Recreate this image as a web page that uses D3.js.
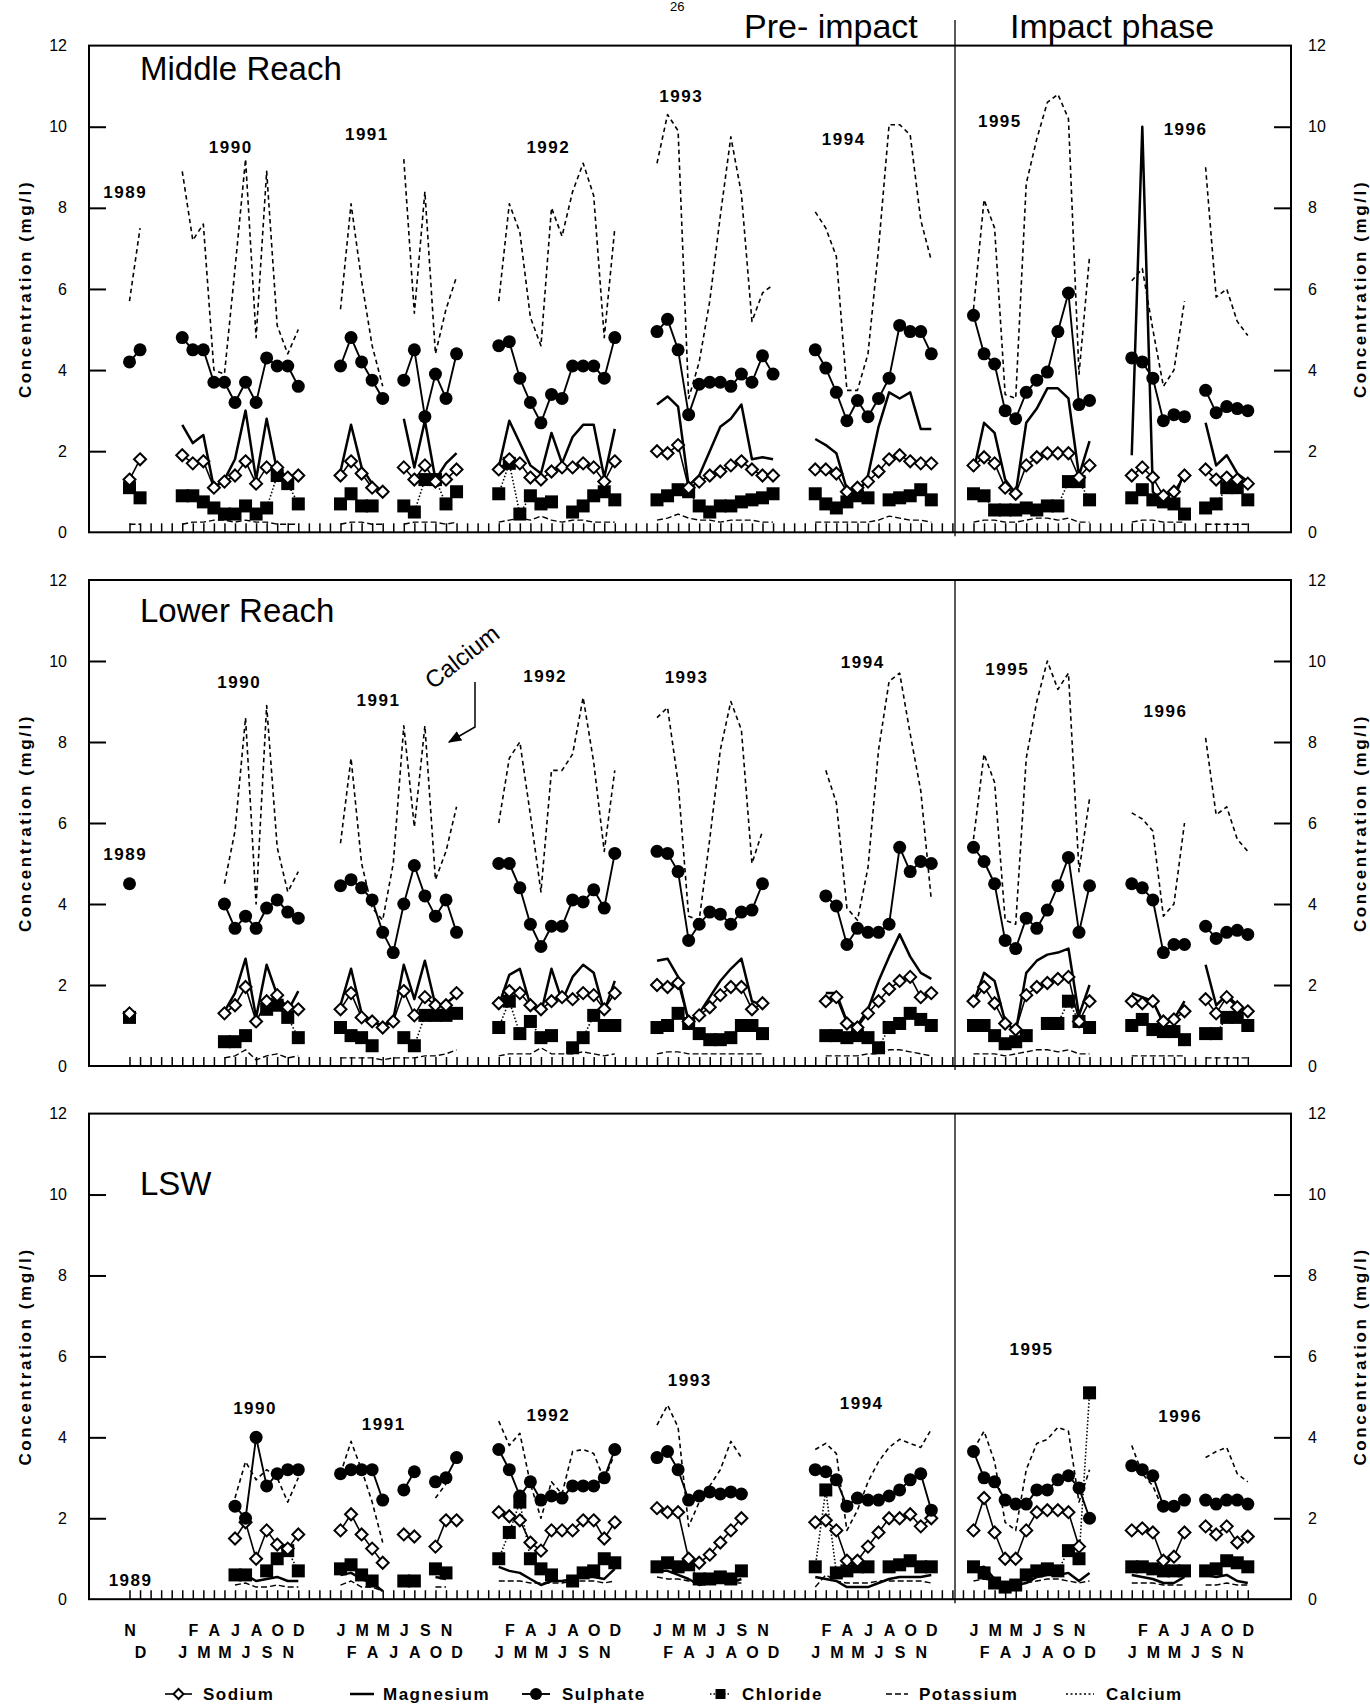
<!DOCTYPE html>
<meta charset="utf-8">
<head>
<title>Ion concentrations - Middle Reach, Lower Reach, LSW</title>
<script src="https://cdnjs.cloudflare.com/ajax/libs/d3/7.8.5/d3.min.js"></script>
<style>
body {margin: 0; background: #fff;}
text {font-family: "Liberation Sans", Arial, Helvetica, sans-serif; fill: #000;}
.frame {fill: none; stroke: #000; stroke-width: 2;}
.axis path {display: none;}
.axis line {stroke: #000;}
</style>
</head>
<body>
<script>
var _ = null;

// tick labels
var monthNames = ["J","F","M","A","M","J","J","A","S","O","N","D"];
var yearNames  = ["1989","1990","1991","1992","1993","1994","1995","1996"];
var panelNames = ["Middle Reach", "Lower Reach", "LSW"];
var seriesNames = ["Sodium", "Magnesium", "Sulphate", "Chloride", "Potassium", "Calcium"];

// values in mg/l, Nov 1989 .. Dec 1996 (2 + 7 x 12 months)
// ---- Middle Reach
var midSodium = [
  1.3, 1.8,
  1.9, 1.7, 1.75, 1.1, 1.25, 1.4, 1.75, 1.2, 1.6, 1.6, 1.35, 1.4,
  1.4, 1.75, 1.45, 1.1, 1.0, _, 1.6, 1.3, 1.65, 1.25, 1.3, 1.55,
  1.55, 1.8, 1.7, 1.35, 1.3, 1.5, 1.6, 1.6, 1.7, 1.6, 1.25, 1.75,
  2.0, 1.95, 2.15, 1.1, 1.25, 1.4, 1.5, 1.65, 1.75, 1.55, 1.4, 1.4,
  1.55, 1.55, 1.45, 1.0, 1.1, 1.25, 1.5, 1.8, 1.9, 1.75, 1.7, 1.7,
  1.65, 1.85, 1.7, 1.1, 0.95, 1.65, 1.85, 1.95, 1.95, 1.95, 1.35, 1.65,
  1.4, 1.6, 1.35, 0.9, 1.0, 1.4, _, 1.55, 1.3, 1.35, 1.3, 1.2
];
var midMagnesium = [
  _, _,
  2.65, 2.2, 2.4, 1.1, 1.3, 1.8, 3.0, 1.3, 2.8, 1.5, 1.3, _,
  1.5, 2.65, 1.6, 1.2, 1.0, _, 2.8, 1.6, 2.75, 1.3, 1.7, 1.95,
  1.6, 2.75, 2.2, 1.65, 1.45, 2.45, 1.7, 2.35, 2.65, 2.65, 1.35, 2.55,
  3.15, 3.35, 3.1, 1.15, 1.4, 2.0, 2.6, 2.8, 3.15, 1.8, 1.85, 1.8,
  2.3, 2.15, 1.95, 1.05, 0.9, 1.4, 2.6, 3.45, 3.3, 3.45, 2.55, 2.55,
  1.5, 2.7, 2.45, 1.3, 0.95, 2.7, 3.05, 3.55, 3.55, 3.3, 1.4, 2.25,
  1.9, 10.0, 1.0, 0.7, 0.8, 1.5, _, 2.7, 1.65, 1.9, 1.45, 1.25
];
var midSulphate = [
  4.2, 4.5,
  4.8, 4.5, 4.5, 3.7, 3.7, 3.2, 3.7, 3.2, 4.3, 4.1, 4.1, 3.6,
  4.1, 4.8, 4.2, 3.75, 3.3, _, 3.75, 4.5, 2.85, 3.9, 3.3, 4.4,
  4.6, 4.7, 3.8, 3.2, 2.7, 3.4, 3.3, 4.1, 4.1, 4.1, 3.8, 4.8,
  4.95, 5.25, 4.5, 2.9, 3.65, 3.7, 3.7, 3.6, 3.9, 3.7, 4.35, 3.9,
  4.5, 4.05, 3.45, 2.75, 3.25, 2.85, 3.3, 3.8, 5.1, 4.95, 4.95, 4.4,
  5.35, 4.4, 4.15, 3.0, 2.8, 3.45, 3.75, 3.95, 4.95, 5.9, 3.15, 3.25,
  4.3, 4.2, 3.8, 2.75, 2.9, 2.85, _, 3.5, 2.95, 3.1, 3.05, 3.0
];
var midChloride = [
  1.1, 0.85,
  0.9, 0.9, 0.75, 0.6, 0.45, 0.45, 0.65, 0.45, 0.6, 1.4, 1.2, 0.7,
  0.7, 0.95, 0.65, 0.65, _, _, 0.65, 0.5, 1.3, 1.3, 0.7, 1.0,
  0.95, 1.7, 0.45, 0.9, 0.7, 0.75, _, 0.5, 0.65, 0.9, 1.0, 0.8,
  0.8, 0.9, 1.05, 1.0, 0.65, 0.5, 0.65, 0.65, 0.75, 0.8, 0.85, 0.95,
  0.95, 0.7, 0.6, 0.75, 0.9, 0.85, _, 0.8, 0.85, 0.9, 1.05, 0.8,
  0.95, 0.9, 0.55, 0.55, 0.55, 0.6, 0.55, 0.65, 0.65, 1.25, 1.25, 0.8,
  0.85, 1.05, 0.8, 0.75, 0.7, 0.45, _, 0.6, 0.7, 1.1, 1.1, 0.8
];
var midPotassium = [
  0.2, 0.2,
  0.2, 0.25, 0.25, 0.3, 0.3, 0.25, 0.3, 0.25, 0.25, 0.2, 0.2, 0.2,
  0.2, 0.25, 0.25, 0.2, 0.2, _, 0.2, 0.25, 0.25, 0.25, 0.2, 0.25,
  0.25, 0.3, 0.35, 0.3, 0.4, 0.3, 0.25, 0.3, 0.3, 0.25, 0.25, 0.25,
  0.3, 0.35, 0.45, 0.35, 0.3, 0.3, 0.25, 0.3, 0.3, 0.3, 0.25, 0.25,
  0.25, 0.25, 0.25, 0.25, 0.25, 0.25, 0.3, 0.4, 0.35, 0.3, 0.3, 0.25,
  0.25, 0.3, 0.3, 0.25, 0.25, 0.3, 0.35, 0.35, 0.3, 0.35, 0.25, 0.25,
  0.25, 0.3, 0.3, 0.25, 0.25, 0.25, _, 0.2, 0.2, 0.2, 0.2, 0.2
];
var midCalcium = [
  5.7, 7.5,
  8.9, 7.2, 7.6, 4.0, 3.9, 6.5, 9.2, 4.8, 8.9, 5.1, 4.4, 5.0,
  5.5, 8.1, 6.2, 4.6, 3.6, _, 9.2, 5.4, 8.4, 4.4, 5.5, 6.3,
  5.7, 8.1, 7.4, 5.3, 4.6, 8.0, 7.3, 8.4, 9.1, 8.3, 4.8, 7.5,
  9.1, 10.3, 9.9, 3.3, 4.2, 5.7, 7.8, 9.75, 8.35, 5.2, 5.9, 6.1,
  7.9, 7.5, 6.8, 3.5, 3.5, 4.4, 7.0, 10.05, 10.05, 9.8, 7.7, 6.7,
  5.5, 8.2, 7.5, 3.4, 3.3, 8.6, 9.7, 10.6, 10.8, 10.2, 3.9, 6.8,
  6.2, 6.5, 5.0, 3.6, 4.0, 5.7, _, 9.0, 5.8, 6.0, 5.2, 4.85
];

// ---- Lower Reach
var lowSodium = [
  1.3, _,
  _, _, _, _, 1.3, 1.5, 1.95, 1.1, 1.6, 1.75, 1.45, 1.4,
  1.4, 1.8, 1.2, 1.1, 0.95, 1.1, 1.85, 1.25, 1.7, 1.5, 1.5, 1.8,
  1.55, 1.85, 1.8, 1.5, 1.4, 1.6, 1.7, 1.65, 1.8, 1.75, 1.4, 1.8,
  2.0, 1.95, 2.05, 1.1, 1.25, 1.45, 1.75, 1.95, 1.95, 1.4, 1.55, _,
  _, 1.6, 1.7, 1.05, 0.95, 1.3, 1.6, 1.9, 2.1, 2.2, 1.7, 1.8,
  1.6, 1.95, 1.55, 1.05, 0.9, 1.75, 1.95, 2.05, 2.15, 2.2, 1.1, 1.6,
  1.6, 1.55, 1.6, 1.1, 1.15, 1.35, _, 1.65, 1.3, 1.7, 1.45, 1.35
];
var lowMagnesium = [
  _, _,
  _, _, _, _, 1.35, 1.8, 2.65, 1.2, 2.5, 1.75, 1.35, 1.85,
  1.5, 2.4, 1.3, 1.1, 1.0, 1.15, 2.5, 1.65, 2.6, 1.5, 1.55, 1.75,
  1.5, 2.25, 2.4, 1.5, 1.3, 2.4, 1.6, 2.2, 2.5, 2.3, 1.35, 2.1,
  2.6, 2.65, 2.2, 1.1, 1.3, 1.7, 2.1, 2.4, 2.65, 1.6, 1.5, _,
  _, 1.8, 1.8, 1.1, 1.0, 1.4, 2.1, 2.7, 3.25, 2.7, 2.3, 2.15,
  1.55, 2.3, 2.1, 1.1, 0.85, 2.3, 2.6, 2.75, 2.8, 2.9, 1.25, 2.0,
  1.8, 1.7, 1.6, 1.05, 1.15, 1.6, _, 2.5, 1.5, 1.75, 1.5, 1.35
];
var lowSulphate = [
  4.5, _,
  _, _, _, _, 4.0, 3.4, 3.7, 3.4, 3.9, 4.1, 3.8, 3.65,
  4.45, 4.6, 4.4, 4.1, 3.3, 2.8, 4.0, 4.95, 4.2, 3.7, 4.1, 3.3,
  5.0, 5.0, 4.4, 3.5, 2.95, 3.45, 3.45, 4.1, 4.05, 4.35, 3.9, 5.25,
  5.3, 5.25, 4.8, 3.1, 3.5, 3.8, 3.75, 3.5, 3.8, 3.85, 4.5, _,
  _, 4.2, 3.95, 3.0, 3.4, 3.3, 3.3, 3.5, 5.4, 4.8, 5.05, 5.0,
  5.4, 5.05, 4.5, 3.1, 2.9, 3.65, 3.4, 3.85, 4.45, 5.15, 3.3, 4.45,
  4.5, 4.4, 4.1, 2.8, 3.0, 3.0, _, 3.45, 3.15, 3.3, 3.35, 3.25
];
var lowChloride = [
  1.2, _,
  _, _, _, _, 0.6, 0.6, 0.75, _, 1.4, 1.5, 1.2, 0.7,
  0.95, 0.75, 0.7, 0.5, _, _, 0.7, 0.5, 1.25, 1.25, 1.25, 1.3,
  0.95, 1.6, 0.8, 1.1, 0.7, 0.75, _, 0.45, 0.7, 1.25, 1.0, 1.0,
  0.95, 1.0, 1.3, 1.05, 0.8, 0.65, 0.65, 0.7, 1.0, 1.0, 0.8, _,
  _, 0.75, 0.75, 0.7, 0.75, 0.7, 0.45, 0.95, 1.05, 1.3, 1.15, 1.0,
  1.0, 1.0, 0.75, 0.55, 0.6, 0.75, _, 1.05, 1.05, 1.6, 1.1, 0.95,
  1.0, 1.15, 0.9, 0.85, 0.85, 0.65, _, 0.8, 0.8, 1.2, 1.2, 1.0
];
var lowPotassium = [
  _, _,
  _, _, _, _, 0.2, 0.25, 0.4, 0.15, 0.25, 0.3, 0.2, 0.25,
  0.2, 0.2, 0.2, 0.2, 0.15, 0.2, 0.2, 0.2, 0.25, 0.25, 0.3, 0.4,
  0.25, 0.3, 0.3, 0.3, 0.45, 0.3, 0.3, 0.3, 0.35, 0.3, 0.25, 0.3,
  0.3, 0.35, 0.35, 0.3, 0.3, 0.3, 0.3, 0.3, 0.3, 0.3, 0.3, _,
  _, 0.25, 0.25, 0.25, 0.25, 0.3, 0.3, 0.4, 0.4, 0.35, 0.3, 0.25,
  0.3, 0.3, 0.3, 0.25, 0.3, 0.35, 0.4, 0.4, 0.35, 0.4, 0.3, 0.3,
  0.25, 0.25, 0.25, 0.25, 0.25, 0.25, _, 0.2, 0.2, 0.2, 0.2, 0.2
];
var lowCalcium = [
  _, _,
  _, _, _, _, 4.5, 5.8, 8.6, 4.0, 8.9, 5.4, 4.3, 4.8,
  5.5, 7.6, 5.0, 3.9, 3.6, 5.0, 8.4, 5.9, 8.4, 4.6, 5.3, 6.4,
  6.0, 7.6, 8.0, 6.2, 4.3, 7.3, 7.3, 7.7, 9.1, 7.5, 5.3, 7.3,
  8.6, 8.85, 7.0, 3.7, 3.6, 5.6, 7.8, 9.0, 8.3, 5.0, 5.8, _,
  _, 7.3, 6.5, 3.9, 3.6, 4.9, 7.8, 9.5, 9.7, 8.2, 6.8, 4.1,
  5.6, 7.7, 7.0, 3.6, 3.5, 7.6, 9.0, 10.0, 9.3, 9.7, 4.8, 6.6,
  6.25, 6.1, 5.8, 3.7, 4.0, 6.0, _, 8.1, 6.2, 6.4, 5.6, 5.3
];

// ---- LSW
var lswSodium = [
  _, _,
  _, _, _, _, _, 1.5, 1.9, 1.0, 1.7, 1.35, 1.25, 1.6,
  1.7, 2.1, 1.6, 1.25, 0.9, _, 1.6, 1.55, _, 1.3, 1.95, 1.95,
  2.15, 2.05, 1.95, 1.4, 1.2, 1.7, 1.7, 1.7, 1.95, 1.95, 1.5, 1.9,
  2.25, 2.15, 2.15, 1.0, 0.9, 1.1, 1.4, 1.7, 2.0, _, _, _,
  1.9, 1.95, 1.7, 0.95, 0.95, 1.3, 1.65, 2.0, 2.0, 2.1, 1.8, 2.0,
  1.7, 2.5, 1.65, 1.0, 1.0, 1.7, 2.15, 2.2, 2.2, 2.15, 1.3, _,
  1.7, 1.75, 1.65, 0.95, 1.05, 1.65, _, 1.8, 1.6, 1.8, 1.4, 1.55
];
var lswMagnesium = [
  _, _,
  _, _, _, _, _, 0.5, 0.6, 0.45, 0.5, 0.55, 0.45, 0.45,
  0.6, 0.65, 0.5, 0.4, 0.2, _, 0.45, 0.45, _, 0.55, 0.5, _,
  0.8, 0.7, 0.65, 0.5, 0.35, 0.45, 0.45, 0.5, 0.55, 0.55, 0.5, 0.75,
  0.7, 0.7, 0.6, 0.5, 0.35, 0.4, 0.4, 0.4, 0.5, _, _, _,
  0.55, 0.5, 0.45, 0.3, 0.3, 0.3, 0.4, 0.5, 0.55, 0.55, 0.55, 0.6,
  0.75, 0.8, 0.5, 0.35, 0.35, 0.4, 0.55, 0.6, 0.6, 0.65, 0.45, 0.65,
  0.6, 0.55, 0.5, 0.4, 0.4, 0.55, _, 0.6, 0.55, 0.6, 0.45, 0.4
];
var lswSulphate = [
  _, _,
  _, _, _, _, _, 2.3, 2.0, 4.0, 2.8, 3.1, 3.2, 3.2,
  3.1, 3.2, 3.2, 3.2, 2.45, _, 2.7, 3.15, _, 2.9, 3.0, 3.5,
  3.7, 3.2, 2.55, 2.9, 2.45, 2.55, 2.5, 2.8, 2.8, 2.8, 3.0, 3.7,
  3.5, 3.65, 3.2, 2.45, 2.55, 2.65, 2.6, 2.65, 2.6, _, _, _,
  3.2, 3.15, 2.95, 2.3, 2.5, 2.45, 2.45, 2.55, 2.7, 2.95, 3.1, 2.2,
  3.65, 3.0, 2.9, 2.45, 2.35, 2.35, 2.7, 2.7, 2.95, 3.05, 2.75, 2.0,
  3.3, 3.2, 3.05, 2.3, 2.3, 2.45, _, 2.45, 2.35, 2.45, 2.45, 2.35
];
var lswChloride = [
  _, _,
  _, _, _, _, _, 0.6, 0.6, _, 0.7, 1.0, 1.2, 0.7,
  0.75, 0.85, 0.6, 0.45, _, _, 0.45, 0.45, _, 0.75, 0.65, _,
  1.0, 1.65, 2.4, 1.0, 0.75, 0.6, _, 0.45, 0.65, 0.7, 1.0, 0.9,
  0.8, 0.9, 0.8, 0.85, 0.5, 0.5, 0.55, 0.5, 0.7, _, _, _,
  0.8, 2.7, 0.65, 0.7, 0.8, 0.8, _, 0.8, 0.85, 0.95, 0.8, 0.8,
  0.8, 0.65, 0.4, 0.3, 0.35, 0.6, 0.7, 0.75, 0.7, 1.2, 1.0, 5.1,
  0.8, 0.8, 0.75, 0.7, 0.7, 0.7, _, 0.7, 0.75, 0.95, 0.9, 0.8
];
var lswPotassium = [
  _, _,
  _, _, _, _, _, 0.35, 0.4, 0.3, 0.3, 0.35, 0.3, 0.3,
  0.35, 0.45, 0.3, 0.3, 0.2, _, 0.4, 0.4, _, 0.3, 0.3, _,
  0.45, 0.45, 0.45, 0.4, 0.4, 0.4, 0.4, 0.45, 0.45, 0.45, 0.4, 0.45,
  0.55, 0.5, 0.5, 0.45, 0.4, 0.4, 0.4, 0.4, 0.4, _, _, _,
  0.3, 0.6, 0.45, 0.4, 0.4, 0.4, 0.45, 0.45, 0.45, 0.45, 0.45, 0.4,
  0.45, 0.5, 0.45, 0.35, 0.35, 0.4, 0.45, 0.5, 0.5, 0.45, 0.4, 0.45,
  0.4, 0.4, 0.4, 0.35, 0.35, 0.35, _, 0.35, 0.35, 0.4, 0.35, 0.35
];
var lswCalcium = [
  _, _,
  _, _, _, _, _, 2.5, 3.4, 2.95, 3.2, 3.0, 2.4, 3.0,
  3.1, 3.9, 3.2, 2.4, 1.4, _, _, _, _, 2.5, 2.85, _,
  4.4, 3.8, 4.1, 2.85, 2.0, 2.9, 2.6, 3.65, 3.7, 3.6, 2.95, 3.6,
  4.3, 4.8, 4.25, 1.8, 2.4, 2.8, 3.2, 3.9, 3.5, _, _, _,
  3.7, 3.85, 3.6, 1.7, 2.2, 2.9, 3.4, 3.75, 3.95, 3.85, 3.75, 4.2,
  3.7, 4.15, 3.4, 1.9, 1.7, 3.2, 3.85, 3.95, 4.25, 4.15, 2.4, 3.2,
  3.8, 3.1, 2.8, 2.2, 2.2, 2.6, _, 3.5, 3.65, 3.75, 3.1, 2.9
];

// year label anchors: [month slot, concentration]
var midYearAt = [[-0.4, 8.24], [9.6, 9.35], [22.5, 9.67], [39.7, 9.35], [52.3, 10.61], [67.7, 9.55], [82.5, 9.99], [100.1, 9.8]];
var lowYearAt = [[-0.4, 5.09], [10.4, 9.33], [23.6, 8.89], [39.4, 9.48], [52.8, 9.46], [69.5, 9.83], [83.2, 9.65], [98.2, 8.62]];
var lswYearAt = [[0.1, 0.33], [11.9, 4.58], [24.1, 4.18], [39.7, 4.4], [53.1, 5.27], [69.4, 4.7], [85.5, 6.03], [99.6, 4.39]];

// ---------------------------------------------------------------
var width = 1370, height = 1704;
var left = 89, right = 1291, divideX = 955;

var svg = d3.select("body").append("svg")
  .attr("width", width)
  .attr("height", height);

// month slots: Nov-Dec 1989, then each year 12 months with 3 empty slots between years
function slotOf(i) {
  if (i < 2) return i;
  return 5 + Math.floor((i - 2) / 12) * 15 + (i - 2) % 12;
}
var nMonths = 2 + 7 * 12;
var monthSlots = d3.range(nMonths).map(slotOf);
var monthLetter = {};
monthSlots.forEach(function(s, i) {
  monthLetter[s] = i < 2 ? ["N", "D"][i] : monthNames[(i - 2) % 12];
});

var x = d3.scaleLinear().domain([0, 106]).range([129.5, 1247.8]);

function toPoints(vals) {
  var pts = [];
  vals.forEach(function(v, i) {
    if (i >= 2 && (i - 2) % 12 === 0) pts.push({s: null, v: null});
    pts.push({s: slotOf(i), v: v});
  });
  return pts;
}

var panels = [
  {name: panelNames[0], top: 45.6, bottom: 532.3, titleY: 80, yearAt: midYearAt,
   data: [midSodium, midMagnesium, midSulphate, midChloride, midPotassium, midCalcium]},
  {name: panelNames[1], top: 580, bottom: 1066, titleY: 622, yearAt: lowYearAt,
   data: [lowSodium, lowMagnesium, lowSulphate, lowChloride, lowPotassium, lowCalcium]},
  {name: panelNames[2], top: 1113.6, bottom: 1599.2, titleY: 1195, yearAt: lswYearAt,
   data: [lswSodium, lswMagnesium, lswSulphate, lswChloride, lswPotassium, lswCalcium]}
];

// line styles by series: sodium, magnesium, sulphate, chloride, potassium, calcium
var lineStyle = [
  {w: 1.6, dash: null},
  {w: 2.5, dash: null},
  {w: 1.9, dash: null},
  {w: 1.6, dash: "1.5,2"},
  {w: 1.4, dash: "6,3"},
  {w: 1.6, dash: "4.5,3.5"}
];
var drawOrder = [5, 4, 1, 3, 0, 2];

function diamond(r) { return "M0," + (-r) + "L" + r + ",0L0," + r + "L" + (-r) + ",0Z"; }

panels.forEach(function(p, pi) {
  var y = d3.scaleLinear().domain([0, 12]).range([p.bottom, p.top]);
  var g = svg.append("g");

  // month ticks along the bottom, pointing up
  g.append("g").attr("class", "axis")
    .attr("transform", "translate(0," + p.bottom + ")")
    .call(d3.axisTop(x).tickValues(d3.range(107)).tickSize(9).tickFormat(""))
    .selectAll("line").attr("stroke-width", 1.5);

  // inner y ticks, both sides
  g.append("g").attr("class", "axis")
    .attr("transform", "translate(" + left + ",0)")
    .call(d3.axisRight(y).tickValues([2, 4, 6, 8, 10]).tickSize(17).tickFormat(""))
    .selectAll("line").attr("stroke-width", 2);
  g.append("g").attr("class", "axis")
    .attr("transform", "translate(" + right + ",0)")
    .call(d3.axisLeft(y).tickValues([2, 4, 6, 8, 10]).tickSize(17).tickFormat(""))
    .selectAll("line").attr("stroke-width", 2);

  // y labels
  var yl = g.append("g").attr("class", "axis")
    .attr("transform", "translate(" + left + ",0)")
    .call(d3.axisLeft(y).tickValues(d3.range(0, 13, 2)).tickSize(0).tickPadding(22));
  var yr = g.append("g").attr("class", "axis")
    .attr("transform", "translate(" + right + ",0)")
    .call(d3.axisRight(y).tickValues(d3.range(0, 13, 2)).tickSize(0).tickPadding(17));
  [yl, yr].forEach(function(a) {
    a.selectAll("text").style("font-size", "16px").style("font-family", "'Liberation Sans', Arial, sans-serif");
  });

  var midY = (p.top + p.bottom) / 2;
  [[31, midY], [1366, midY]].forEach(function(c) {
    g.append("text")
      .attr("transform", "translate(" + c[0] + "," + c[1] + ") rotate(-90)")
      .attr("text-anchor", "middle")
      .style("font-size", "17px").style("font-weight", "bold").style("letter-spacing", "2.6px")
      .text("Concentration (mg/l)");
  });

  // frame and phase divider
  g.append("rect").attr("class", "frame")
    .attr("x", left).attr("y", p.top)
    .attr("width", right - left).attr("height", p.bottom - p.top);
  g.append("line")
    .attr("x1", divideX).attr("x2", divideX)
    .attr("y1", pi === 0 ? 20 : p.top).attr("y2", p.bottom + 4)
    .attr("stroke", "#000").attr("stroke-width", 1.3);

  g.append("text").attr("x", 140).attr("y", p.titleY)
    .style("font-size", "33px").text(p.name);

  g.selectAll(".yr").data(p.yearAt).enter().append("text")
    .attr("x", function(d) { return x(d[0]); })
    .attr("y", function(d) { return y(d[1]); })
    .attr("text-anchor", "middle")
    .style("font-size", "17px").style("font-weight", "bold").style("letter-spacing", "1.5px")
    .text(function(d, i) { return yearNames[i]; });

  // lines
  var line = d3.line()
    .defined(function(d) { return d.v != null; })
    .x(function(d) { return x(d.s); })
    .y(function(d) { return y(d.v); });

  drawOrder.forEach(function(k) {
    g.append("path")
      .datum(toPoints(p.data[k]))
      .attr("d", line)
      .attr("fill", "none")
      .attr("stroke", "#000")
      .attr("stroke-width", lineStyle[k].w)
      .attr("stroke-dasharray", lineStyle[k].dash)
      .attr("stroke-linejoin", "round");
  });

  function defined(k) { return toPoints(p.data[k]).filter(function(d) { return d.v != null; }); }

  // chloride squares
  g.selectAll(".cl").data(defined(3)).enter().append("rect")
    .attr("x", function(d) { return x(d.s) - 6.5; })
    .attr("y", function(d) { return y(d.v) - 6.5; })
    .attr("width", 13).attr("height", 13)
    .attr("fill", "#000");

  // sodium diamonds
  g.selectAll(".na").data(defined(0)).enter().append("path")
    .attr("transform", function(d) { return "translate(" + x(d.s) + "," + y(d.v) + ")"; })
    .attr("d", diamond(6))
    .attr("fill", "#fff").attr("stroke", "#000").attr("stroke-width", 2);

  // sulphate circles
  g.selectAll(".so").data(defined(2)).enter().append("circle")
    .attr("cx", function(d) { return x(d.s); })
    .attr("cy", function(d) { return y(d.v); })
    .attr("r", 6.5)
    .attr("fill", "#000");

  // month letters under the last panel, alternating rows
  if (pi === 2) {
    var mx = g.append("g").attr("class", "axis")
      .attr("transform", "translate(0," + p.bottom + ")")
      .call(d3.axisBottom(x).tickValues(monthSlots).tickSize(0)
        .tickFormat(function(s) { return monthLetter[s]; }));
    mx.selectAll("text")
      .attr("dy", null)
      .attr("y", function(s) { return s % 2 === 0 ? 37 : 59; })
      .style("font-size", "16px").style("font-weight", "bold")
      .style("font-family", "'Liberation Sans', Arial, sans-serif");
  }

  if (pi === 1) {
    // Calcium arrow annotation
    svg.append("defs").append("marker")
      .attr("id", "arrow").attr("viewBox", "0 0 10 10")
      .attr("refX", 9).attr("refY", 5)
      .attr("markerWidth", 9).attr("markerHeight", 9)
      .attr("orient", "auto")
      .append("path").attr("d", "M0,1L10,5L0,9Z").attr("fill", "#000");
    g.append("text")
      .attr("transform", "translate(433,690) rotate(-38)")
      .style("font-size", "24px").text("Calcium");
    g.append("path")
      .attr("d", "M475,682V727L449,742")
      .attr("fill", "none").attr("stroke", "#000").attr("stroke-width", 1.5)
      .attr("marker-end", "url(#arrow)");
  }
});

// page number and phase headings
svg.append("text").attr("x", 670).attr("y", 11).style("font-size", "13px").text("26");
svg.append("text").attr("x", 744).attr("y", 38).style("font-size", "34px").text("Pre- impact");
svg.append("text").attr("x", 1010).attr("y", 38).style("font-size", "34px").text("Impact phase");

// legend
var legendX = [[165, 192, 203], [350, 374, 383], [522, 550, 562], [710, 731, 742], [886, 908, 919], [1066, 1094, 1106]];
var legY = 1694;
var leg = svg.append("g");
seriesNames.forEach(function(name, k) {
  var lx = legendX[k];
  leg.append("line")
    .attr("x1", lx[0]).attr("x2", lx[1]).attr("y1", legY).attr("y2", legY)
    .attr("stroke", "#000").attr("stroke-width", lineStyle[k].w)
    .attr("stroke-dasharray", k === 5 ? "2,2.5" : lineStyle[k].dash);
  var cx = (lx[0] + lx[1]) / 2;
  if (k === 0) leg.append("path").attr("transform", "translate(" + cx + "," + legY + ")")
    .attr("d", diamond(5)).attr("fill", "#fff").attr("stroke", "#000").attr("stroke-width", 2);
  if (k === 2) leg.append("circle").attr("cx", cx).attr("cy", legY).attr("r", 6).attr("fill", "#000");
  if (k === 3) leg.append("rect").attr("x", cx - 5).attr("y", legY - 5).attr("width", 10).attr("height", 10).attr("fill", "#000");
  leg.append("text").attr("x", lx[2]).attr("y", legY + 6)
    .style("font-size", "17px").style("font-weight", "bold").style("letter-spacing", "1.5px")
    .text(name);
});
</script>
</body>
